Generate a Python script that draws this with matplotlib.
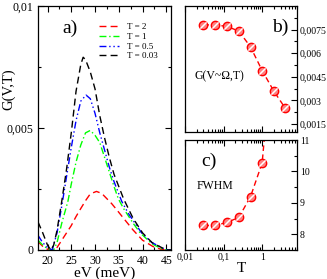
import matplotlib
matplotlib.use("Agg")
import matplotlib.pyplot as plt
import numpy as np
from matplotlib.path import Path
from matplotlib.ticker import FixedLocator, MultipleLocator, LogLocator, NullFormatter

plt.rcParams['font.family'] = ['Liberation Serif', 'DejaVu Serif']

# panel a) G(V,T) vs eV
ev_black = [18, 19, 20, 20.7, 21.3, 22, 23, 24, 25, 26, 27, 27.5, 28, 29, 30, 31, 32, 33, 34, 35, 36, 38, 40, 42, 44, 45, 46]
g_black = [0.00115, 0.0007, 0.0002, 0.0, 0.0002, 0.0008, 0.0020, 0.0033, 0.0048, 0.0065, 0.0076, 0.0079, 0.0078, 0.0073, 0.0066,
           0.0055, 0.0046, 0.0038, 0.0031, 0.0026, 0.0021, 0.0013, 0.0007, 0.0003, 0.0001, 0.0, 0.0]
ev_blue = [18, 19, 20, 21, 22, 23, 24, 25, 26, 27, 28.1, 29, 30, 31, 32, 33, 34, 35.6, 37, 39.8, 42, 44, 45, 46]
g_blue = [0.0006, 0.0003, 0.0001, 0.0, 0.0007, 0.0018, 0.0030, 0.0042, 0.0053, 0.0061, 0.00635, 0.0062, 0.0056, 0.0048,
          0.0041, 0.0034, 0.0028, 0.0020, 0.0015, 0.0007, 0.0003, 0.0001, 0.0, 0.0]
ev_green = [18, 19, 20, 21.3, 22, 23, 24.3, 25, 26, 27, 28, 29, 30, 31, 32, 33, 34, 34.9, 36, 38, 39.5, 42, 44, 45, 46]
g_green = [0.0004, 0.0002, 0.00005, 0.0, 0.0003, 0.0011, 0.0020, 0.0027, 0.0036, 0.0043, 0.0048, 0.0049, 0.0047, 0.0044,
           0.0038, 0.0032, 0.0026, 0.0021, 0.0017, 0.0011, 0.0007, 0.00025, 0.00005, 0.0, 0.0]
ev_red = [18, 19, 20, 21.4, 22, 23, 24, 25, 26, 27, 28.1, 29, 30.3, 31.4, 32.5, 33.5, 34.6, 36, 38, 40, 42.2, 44, 45, 46]
g_red = [0.00034, 0.00015, 0.00003, 0.0, 0.0001, 0.0004, 0.0007, 0.0010, 0.00137, 0.0017, 0.00205, 0.0023, 0.0024, 0.00232,
         0.0021, 0.0019, 0.00164, 0.0013, 0.00082, 0.0004, 0.00014, 0.00002, 0.0, 0.0]

# panels b) and c) vs T
temps = [0.03, 0.06, 0.125, 0.25, 0.5, 1, 2, 4]
g_peak = [0.0078, 0.0078, 0.0077, 0.0074, 0.0064, 0.0049, 0.0036, 0.0025]
temps_fwhm = [0.03, 0.06, 0.125, 0.25, 0.5, 1]
fwhm = [8.28, 8.28, 8.38, 8.54, 9.2, 10.27]
temps_fit = [0.03, 0.06, 0.125, 0.25, 0.5, 1, 1.13]
fwhm_fit = [8.28, 8.28, 8.38, 8.54, 9.2, 10.27, 11.0]

a_xticks = [20, 25, 30, 35, 40, 45]
a_yticks = [0, 0.005, 0.01]
a_ylabels = ["0", "0,005", "0,01"]
b_yticks = [0.0015, 0.003, 0.0045, 0.006, 0.0075]
b_ylabels = ["0,0015", "0,003", "0,0045", "0,006", "0,0075"]
c_yticks = [8, 9, 10, 11]
c_xticks = [0.01, 0.1, 1]
c_xlabels = ["0,01", "0,1", "1"]

fig = plt.figure(figsize=(3.27, 2.79), dpi=100)
axa = fig.add_axes([0.1162, 0.104, 0.407, 0.8745])
axb = fig.add_axes([0.5657, 0.527, 0.3425, 0.4515])
axc = fig.add_axes([0.5657, 0.104, 0.3425, 0.394])

def style(ax):
    ax.tick_params(which='both', direction='in', top=True, right=True, width=0.8)
    ax.tick_params(which='major', length=4)
    ax.tick_params(which='minor', length=2)
    for s in ax.spines.values():
        s.set_linewidth(0.9)

# a)
axa.plot(ev_red, g_red, color='red', lw=1, dashes=(5, 3), label='T = 2')
axa.plot(ev_green, g_green, color='#00ff00', lw=1, dashes=(5, 2, 1, 2), label='T = 1')
axa.plot(ev_blue, g_blue, color='blue', lw=1, dashes=(5, 2, 1, 2, 1, 2), label='T = 0.5')
axa.plot(ev_black, g_black, color='black', lw=1, dashes=(5, 3), label='T = 0.03')
axa.set_xlim(18, 46)
axa.set_ylim(0, 0.01)
axa.xaxis.set_major_locator(FixedLocator(a_xticks))
axa.xaxis.set_minor_locator(MultipleLocator(2.5))
axa.set_yticks(a_yticks)
axa.set_yticklabels(a_ylabels)
axa.yaxis.set_minor_locator(MultipleLocator(0.0025))
style(axa)
axa.tick_params(labelsize=8.5)
axa.set_xlabel('eV (meV)', fontsize=11, labelpad=0)
axa.set_ylabel('G(V,T)', fontsize=10.5)
axa.yaxis.set_label_coords(-0.17, 0.66)
axa.text(0.24, 0.91, 'a)', transform=axa.transAxes, fontsize=14, ha='center', va='center')
axa.legend(loc='upper left', bbox_to_anchor=(0.46, 0.93), frameon=False, fontsize=6.5,
           handlelength=2.2, handletextpad=0.9, labelspacing=0.15, borderpad=0, borderaxespad=0)

# slashed circle marker
slash = Path([(-1, -1), (1, 1)], [Path.MOVETO, Path.LINETO])

def marks(ax, x, y):
    ax.plot(x, y, 'o', ms=6, mfc='#ff8080', mec='red', mew=1.0, zorder=3)
    ax.plot(x, y, marker=slash, ls='none', ms=4.5, mec='white', mew=1.1, zorder=4)

# b)
axb.plot(temps, g_peak, color='red', lw=1, dashes=(4, 2.5))
marks(axb, temps, g_peak)
axb.set_xscale('log')
axb.set_xlim(0.01, 8)
axb.set_ylim(0.001, 0.009)
axb.set_yticks(b_yticks)
axb.set_yticklabels(b_ylabels)
axb.yaxis.set_minor_locator(MultipleLocator(0.00075))
axb.yaxis.tick_right()
axb.xaxis.set_major_locator(LogLocator(base=10))
axb.xaxis.set_minor_locator(LogLocator(base=10, subs=np.arange(2, 10)))
axb.xaxis.set_major_formatter(NullFormatter())
axb.xaxis.set_minor_formatter(NullFormatter())
style(axb)
axb.tick_params(labelsize=7, labelleft=False, labelright=True, pad=2)
axb.text(0.85, 0.83, 'b)', transform=axb.transAxes, fontsize=14, ha='center', va='center')
axb.text(0.31, 0.44, 'G(V~\u03a9,T)', transform=axb.transAxes, fontsize=8.5, ha='center', va='center')

# c)
axc.plot(temps_fit, fwhm_fit, color='red', lw=1, dashes=(4, 2.5))
marks(axc, temps_fwhm, fwhm)
axc.set_xscale('log')
axc.set_xlim(0.01, 8)
axc.set_ylim(7.5, 11)
axc.set_yticks(c_yticks)
axc.yaxis.set_minor_locator(MultipleLocator(0.5))
axc.yaxis.tick_right()
axc.set_xticks(c_xticks)
axc.set_xticklabels(c_xlabels)
axc.xaxis.set_minor_locator(LogLocator(base=10, subs=np.arange(2, 10)))
axc.xaxis.set_minor_formatter(NullFormatter())
style(axc)
axc.tick_params(labelsize=7, labelleft=False, labelright=True, pad=2)
axc.set_xlabel('T', fontsize=11, labelpad=0)
axc.text(0.21, 0.81, 'c)', transform=axc.transAxes, fontsize=14, ha='center', va='center')
axc.text(0.27, 0.58, 'FWHM', transform=axc.transAxes, fontsize=8.5, ha='center', va='center')

fig.savefig('out.png', dpi=100)
